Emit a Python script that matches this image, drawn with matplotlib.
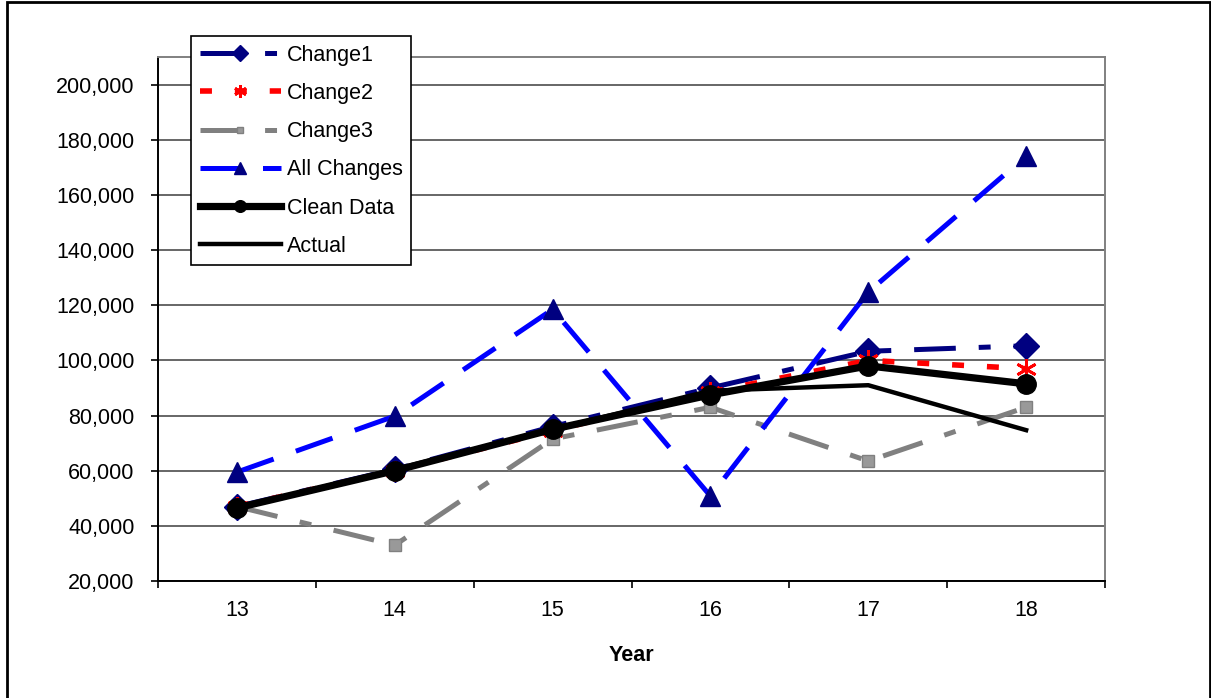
import matplotlib.pyplot as plt
from matplotlib.patches import Rectangle
from matplotlib.ticker import FuncFormatter, MultipleLocator, FixedLocator

plt.rcParams['font.family'] = ['Liberation Sans', 'DejaVu Sans']
plt.rcParams['lines.scale_dashes'] = False

years = [13, 14, 15, 16, 17, 18]
change1 = [47000, 60500, 76000, 90000, 103300, 105300]
change2 = [47000, 60000, 74500, 88500, 100000, 97000]
change3 = [47000, 33000, 71500, 83000, 63500, 83000]
all_changes = [59500, 79800, 118500, 50800, 124800, 174100]
clean_data = [46500, 60000, 75000, 87500, 98000, 91500]
actual = [46500, 60500, 75000, 89000, 91000, 74700]

fig = plt.figure(figsize=(12.11, 6.98), dpi=100)
ax = fig.add_axes([0.1305, 0.1676, 0.782, 0.7507])

long_dash_dot = (0, (30, 16.5, 8.6, 16.5))

ax.plot(years, change1, color='#000080', lw=3.6, linestyle=long_dash_dot,
        marker='D', ms=13, mfc='#000080', mec='#000080', label='Change1', zorder=3)
ax.plot(years, change2, color='#ff0000', lw=4.0, linestyle=(0, (8.6, 16.5)),
        marker=(6, 2, 0), ms=15, mew=2, mec='#ff0000', label='Change2', zorder=3)
ax.plot(years, change3, color='#808080', lw=3.6, linestyle=long_dash_dot,
        marker='s', ms=8, mfc='#999999', mec='#808080', label='Change3', zorder=3)
ax.plot(years, all_changes, color='#0000ff', lw=3.6, linestyle=(0, (28, 17)),
        marker='^', ms=14, mfc='#000080', mec='#000080', label='All Changes', zorder=3)
ax.plot(years, clean_data, color='black', lw=5.2, marker='o', ms=14,
        label='Clean Data', zorder=4)
ax.plot(years, actual, color='black', lw=3.2, label='Actual', zorder=4)

ax.set_xlim(12.5, 18.5)
ax.set_ylim(20000, 210000)
ax.yaxis.set_major_locator(FixedLocator(range(20000, 200001, 20000)))
ax.yaxis.set_major_formatter(FuncFormatter(lambda v, p: f'{int(v):,}'))
ax.set_xticks(years)
ax.xaxis.set_minor_locator(MultipleLocator(1, offset=0.5))
ax.tick_params(axis='x', which='major', length=0, pad=14, labelsize=15.5)
ax.tick_params(axis='x', which='minor', length=5, width=1.2, direction='out')
ax.tick_params(axis='y', length=5, width=1.2, pad=12, labelsize=15.5)

ax.grid(axis='y', color='#4d4d4d', lw=1.2)
ax.set_axisbelow(True)
for side in ['left', 'bottom']:
    ax.spines[side].set_color('black')
    ax.spines[side].set_linewidth(1.4)
for side in ['top', 'right']:
    ax.spines[side].set_color('#808080')
    ax.spines[side].set_linewidth(1.4)

ax.set_xlabel('Year', fontsize=15.5, fontweight='bold', labelpad=17)

leg = fig.legend(loc='upper left', bbox_to_anchor=(0.1577, 0.9484), fontsize=15.5,
                 frameon=True, fancybox=False, edgecolor='black', framealpha=1,
                 handlelength=3.8, handletextpad=0.25, labelspacing=0.8,
                 borderpad=0.4, borderaxespad=0, markerscale=0.6)
leg.get_frame().set_linewidth(1.2)

fig.patches.append(Rectangle((0.0058, -0.05), 0.9934, 1.0478, transform=fig.transFigure,
                             fill=False, edgecolor='black', lw=2))

fig.savefig('out.png', dpi=100, facecolor='white')
